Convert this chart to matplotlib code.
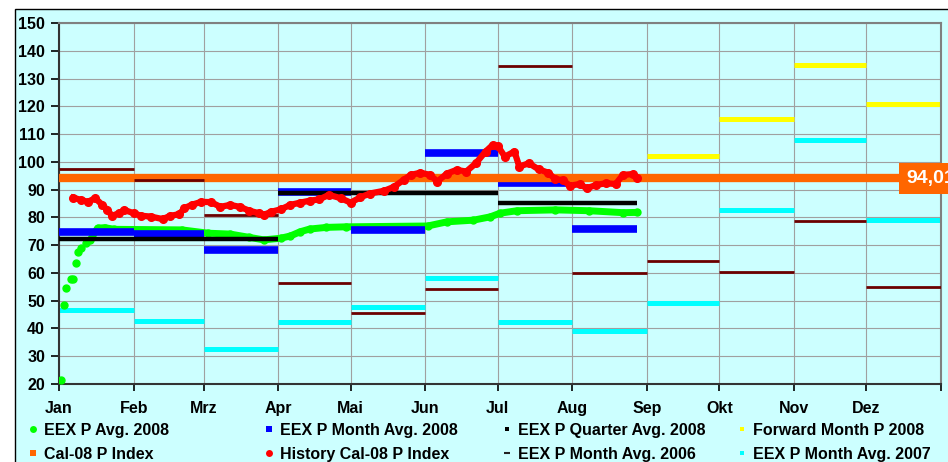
import matplotlib
matplotlib.use("Agg")
import matplotlib.pyplot as plt
from matplotlib.lines import Line2D
from matplotlib.patches import Rectangle

plt.rcParams['font.family'] = ['Liberation Sans', 'DejaVu Sans']
plt.rcParams['font.weight'] = 'bold'

# ---------------- data ----------------
month_names = ['Jan', 'Feb', 'Mrz', 'Apr', 'Mai', 'Jun', 'Jul', 'Aug', 'Sep', 'Okt', 'Nov', 'Dez']
month_starts = [0, 31, 60, 91, 121, 152, 182, 213, 244, 274, 305, 335, 366]   # day of year 2008
last_day = 240   # last day with 2008 data (end of Aug)

month_avg_2006 = [97.5, 93.5, 80.9, 56.3, 45.7, 54.1, 134.6, 60.1, 64.3, 60.3, 78.8, 54.8]
month_avg_2007 = [46.6, 42.7, 32.6, 42.2, 47.6, 58.1, 42.4, 39.1, 49.0, 82.8, 107.9, 79.1]
forward_2008 = [102.1, 115.4, 135.0, 120.8]          # Sep - Dez
month_avg_2008 = [74.6, 74.1, 68.3, 89.3, 75.3, 103.1, 92.3, 75.9]   # Jan - Aug
quarter_avg_2008 = [72.3, 88.8, 85.2]
quarter_starts = [0, 91, 182]
quarter_ends = [91, 182, last_day]
cal08_index = 94.01

avg_days = [1, 2, 3, 5, 6, 7, 8, 9, 11, 13, 16, 19, 23, 51, 62, 71, 79, 85, 92, 96,
            100, 104, 111, 119, 153, 161, 172, 179, 183, 190, 206, 220, 234, 240]
avg_vals = [21.4, 48.4, 54.5, 57.8, 57.8, 63.7, 67.6, 68.9, 70.7, 71.9, 76.1, 76.3, 75.7,
            75.5, 74.3, 74.0, 72.8, 71.9, 72.5, 73.3, 74.8, 75.8, 76.4, 76.6, 76.9, 78.4,
            79.0, 80.2, 81.5, 82.4, 82.7, 82.4, 81.7, 81.8]

hist_days = [6, 9, 12, 15, 18, 20, 22, 25, 27, 31, 34, 38, 43, 46, 50, 52, 55, 59, 63, 67,
             71, 75, 79, 83, 85, 88, 92, 96, 100, 104, 108, 112, 117, 121, 125, 129, 135,
             139, 143, 146, 150, 154, 157, 161, 165, 169, 173, 177, 180, 182, 185, 189,
             191, 195, 199, 203, 206, 209, 212, 216, 219, 223, 227, 231, 234, 238, 240]
hist_vals = [87.1, 86.3, 85.6, 86.9, 84.5, 82.7, 80.6, 81.5, 82.7, 81.5, 80.6, 80.3, 79.4,
             80.5, 81.2, 83.3, 84.5, 85.6, 85.5, 83.8, 84.5, 83.8, 82.4, 81.5, 80.9, 82.0,
             82.9, 84.5, 85.3, 86.0, 86.5, 88.1, 86.9, 85.3, 87.2, 88.6, 89.6, 91.0, 93.5,
             95.3, 96.1, 95.3, 92.9, 95.8, 97.1, 96.5, 99.5, 103.7, 106.1, 105.8, 101.9,
             103.7, 98.3, 99.5, 97.3, 96.1, 93.7, 93.5, 91.4, 92.0, 90.5, 91.7, 92.3, 92.0,
             95.3, 95.6, 94.1]

c_bg = '#CCFFFF'
c_green = '#00FF00'
c_blue = '#0000FF'
c_black = '#000000'
c_yellow = '#FFFF00'
c_orange = '#FF6600'
c_red = '#FF0000'
c_brown = '#6B0000'
c_cyan = '#00FFFF'

# ---------------- figure ----------------
fig = plt.figure(figsize=(9.48, 4.62), dpi=100)
fig.patch.set_facecolor('white')
fig.patches.append(Rectangle((15 / 948, -0.05), 1.0, 0.9805 + 0.05, transform=fig.transFigure,
                             facecolor=c_bg, edgecolor='black', linewidth=1, zorder=-1))

ax = fig.add_axes([59 / 948, 78 / 462, 882 / 948, 361 / 462])
ax.set_facecolor(c_bg)

ms = month_starts
ax.hlines(month_avg_2007, ms[:-1], ms[1:], colors=c_cyan, lw=3.6, zorder=2)
ax.hlines(forward_2008, ms[8:12], ms[9:13], colors=c_yellow, lw=3.6, zorder=2)

ax.plot(avg_days, avg_vals, 'o', color=c_green, ms=5, zorder=3)
ax.plot(avg_days[9:], avg_vals[9:], '-', color=c_green, lw=5, solid_capstyle='round', zorder=3)

ends_2008 = ms[1:8] + [last_day]
ax.hlines(month_avg_2008, ms[:8], ends_2008, colors=c_blue, lw=5.5, zorder=4)
ax.hlines(quarter_avg_2008, quarter_starts, quarter_ends, colors=c_black, lw=3.2, zorder=5)

ax.axhline(cal08_index, color=c_orange, lw=6, zorder=6)
ax.hlines(month_avg_2006, ms[:-1], ms[1:], colors=c_brown, lw=2, zorder=7)

ax.plot(hist_days, hist_vals, '-', color=c_red, lw=4.5, zorder=8)
ax.plot(hist_days, hist_vals, 'o', color=c_red, ms=5.5, zorder=8)

ax.text(351.5, cal08_index, '94,01', color='white', fontsize=14, fontweight='bold',
        ha='left', va='center', clip_on=False, zorder=10,
        bbox=dict(boxstyle='square,pad=0.35', facecolor=c_orange, edgecolor='none'))

# axes
ax.set_xlim(0, 366)
ax.set_ylim(20, 150)
ax.set_xticks(ms)
ax.set_xticklabels(month_names + [''])
ax.set_yticks(range(20, 151, 10))
ax.tick_params(axis='x', direction='out', length=5, width=1.2, pad=7, labelsize=11.5)
ax.tick_params(axis='y', direction='out', length=6, width=1.2, pad=4, labelsize=11.5)
ax.set_axisbelow(True)
ax.grid(color='#A0A0A0', lw=0.8)
for s in ['left', 'bottom']:
    ax.spines[s].set_color('#333333')
    ax.spines[s].set_linewidth(1.5)
for s in ['top', 'right']:
    ax.spines[s].set_color('#808080')
    ax.spines[s].set_linewidth(1.5)

# legend, four fixed columns
def h(marker, color, size, mew=0.0):
    return Line2D([], [], marker=marker, color=color, ls='none', ms=size, mew=mew)

columns = [
    ([h('o', c_green, 5), h('s', c_orange, 5)], ['EEX P Avg. 2008', 'Cal-08 P Index']),
    ([h('s', c_blue, 5), h('o', c_red, 5)], ['EEX P Month Avg. 2008', 'History Cal-08 P Index']),
    ([h('s', c_black, 3.5), h('_', '#222222', 5, 1.5)], ['EEX P Quarter Avg. 2008', 'EEX P Month Avg. 2006']),
    ([h('s', c_yellow, 3.5), h('s', c_cyan, 3.5)], ['Forward Month P 2008', 'EEX P Month Avg. 2007']),
]
col_x = [26.6, 262.6, 500.6, 735.6]
for (handles, labels), x in zip(columns, col_x):
    fig.legend(handles, labels, loc='upper left', bbox_to_anchor=(x / 948, 1 - 423 / 462),
               frameon=False, borderpad=0, borderaxespad=0, handlelength=0.8,
               handletextpad=0.3, labelspacing=0.55, prop={'size': 11.5, 'weight': 'bold'})

fig.savefig('out.png', dpi=100)
